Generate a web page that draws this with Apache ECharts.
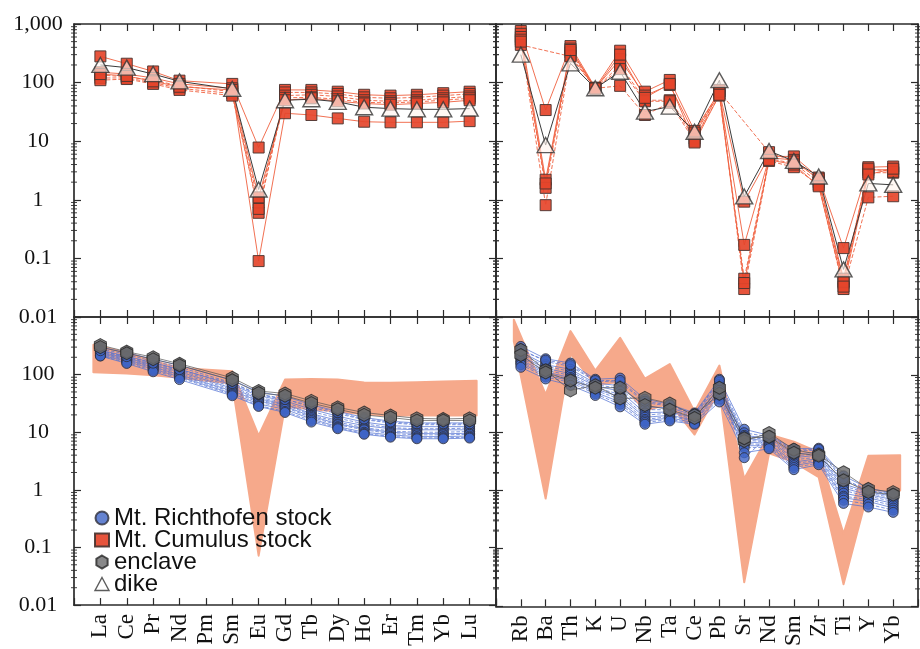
<!DOCTYPE html>
<html>
<head>
<meta charset="utf-8">
<script src="https://cdn.jsdelivr.net/npm/echarts@6/dist/echarts.min.js"></script>
<style>
  html, body { margin: 0; padding: 0; background: #ffffff; }
  #chart { width: 920px; height: 649px; }
</style>
</head>
<body>
<div id="chart"></div>
<script>
// Element orders for the two diagrams
const reeElements = ['La', 'Ce', 'Pr', 'Nd', 'Pm', 'Sm', 'Eu', 'Gd', 'Tb', 'Dy', 'Ho', 'Er', 'Tm', 'Yb', 'Lu'];
const traceElements = ['Rb', 'Ba', 'Th', 'K', 'U', 'Nb', 'Ta', 'Ce', 'Pb', 'Sr', 'Nd', 'Sm', 'Zr', 'Ti', 'Y', 'Yb'];
const yTickLabels = ['0.01', '0.1', '1', '10', '100', '1,000'];

// Mt. Cumulus stock, chondrite-normalised REE (Pm not analysed)
const cumulusREE = [
  [280, 210, 155, 108, null, 95, 7.8, 75, 75, 70, 62, 60, 62, 66, 70],
  [150, 140, 120, 95, null, 80, 0.09, 30, 28, 24.5, 21.5, 21, 21, 21, 22],
  [135, 125, 110, 88, null, 70, 0.6, 68, 68, 64, 56, 54, 56, 60, 64],
  [120, 120, 100, 80, null, 65, 0.9, 60, 62, 58, 50, 48, 50, 54, 58],
  [110, 115, 95, 75, null, 60, 0.7, 55, 56, 52, 46, 45, 47, 50, 54],
  [140, 130, 105, 85, null, 75, 1.1, 50, 54, 48, 44, 42, 44, 46, 50]
];
// Mt. Cumulus stock, primitive-mantle-normalised trace elements
const cumulusTrace = [
  [760, 34, 420, 82, 350, 70, 111, 15, 70, 0.93, 5.5, 5.5, 2.4, 0.15, 3.6, 3.7],
  [680, 2.2, 380, 80, 250, 60, 91, 13, 65, 0.17, 5.2, 4.8, 2.2, 0.045, 3.2, 3.3],
  [600, 1.6, 330, 78, 200, 50, 50, 11, 60, 0.045, 5.0, 4.2, 2.0, 0.038, 2.9, 2.9],
  [540, 0.81, 290, 80, 88, 28, 45, 10, 75, 0.03, 4.6, 3.6, 1.8, 0.03, 1.1, 1.15],
  [440, null, 280, 80, 170, 48, 48, 14, 70, null, 6.5, 4.5, 2.3, 0.04, 3.4, 3.0],
  [500, 1.9, 360, 79, 300, 55, 95, 9.5, 62, 0.038, 4.8, 4.0, 1.7, 0.033, 2.7, 3.4]
];
const cumulusDash = ['solid', 'solid', 'dashed', 'dashed', 'dashed', 'solid'];

// Dike
const dikeREE = [200, 180, 140, 105, null, 78, 1.5, 50, 52, 47, 38, 36, 35, 35, 36];
const dikeTrace = [300, 8.6, 213, 80, 153, 32, 39, 14.5, 110, 1.14, 6.8, 4.6, 2.5, 0.065, 1.9, 1.8];

// Mt. Richthofen stock
const richthofenREE = [
  [300, 240, 185, 145, null, 80, 50, 42, 30, 23, 18, 15.5, 14.5, 14.5, 14.5],
  [280, 225, 170, 135, null, 72, 46, 38, 27, 21, 16.5, 14.5, 13.5, 13.5, 13.5],
  [265, 210, 160, 125, null, 66, 43, 35, 25, 19, 15, 13, 12.5, 12.5, 12.5],
  [255, 200, 150, 118, null, 62, 40, 33, 23, 17.5, 14, 12, 11.5, 11.5, 11.8],
  [245, 195, 145, 112, null, 58, 38, 31, 21, 16, 13, 11.5, 11, 11, 11],
  [240, 188, 140, 106, null, 55, 36, 30, 20, 15, 12, 10.5, 10, 10, 10.3],
  [232, 182, 135, 100, null, 52, 35, 28, 19, 14, 11.5, 10, 9.5, 9.4, 9.6],
  [225, 176, 130, 96, null, 50, 33, 27, 18, 13.5, 11, 9.5, 9, 9, 9.2],
  [218, 170, 124, 92, null, 47, 31, 25, 17, 12.5, 10, 9, 8.4, 8.4, 8.6],
  [212, 162, 118, 88, null, 45, 29, 23, 16, 12, 9.5, 8.5, 8, 8, 8.2],
  [210, 156, 112, 82, null, 43, 28, 22, 15, 11.5, 9.2, 8.2, 7.7, 7.7, 7.9],
  [260, 205, 158, 122, null, 70, 45, 37, 29, 22, 17, 15, 14, 14, 14]
];
const richthofenTrace = [
  [310, 190, 160, 84, 88, 38, 31, 22, 84, 11.5, 9.0, 5.3, 5.4, 1.8, 1.1, 0.9],
  [280, 170, 140, 78, 75, 33, 29, 21, 75, 10, 8.5, 4.8, 5.0, 1.5, 1.0, 0.85],
  [250, 150, 125, 72, 65, 28, 27, 20, 68, 9, 8.0, 4.3, 4.6, 1.3, 0.95, 0.8],
  [230, 140, 115, 68, 58, 25, 25, 19, 62, 8.5, 7.6, 4.0, 4.3, 1.2, 0.9, 0.75],
  [210, 130, 105, 65, 52, 22, 23, 18, 58, 8, 7.2, 3.7, 4.1, 1.1, 0.85, 0.7],
  [195, 120, 98, 60, 46, 20, 22, 17, 54, 7.5, 6.9, 3.4, 3.8, 1.0, 0.8, 0.65],
  [180, 112, 90, 57, 42, 18.5, 20, 16.5, 50, 7, 6.5, 3.1, 3.6, 0.9, 0.75, 0.6],
  [170, 105, 85, 54, 38, 17, 19, 16, 46, 6.5, 6.2, 2.9, 3.4, 0.8, 0.7, 0.55],
  [160, 98, 80, 50, 34, 16, 18, 15, 42, 6, 5.9, 2.7, 3.2, 0.75, 0.65, 0.5],
  [150, 92, 74, 47, 31, 15, 17, 14.5, 38, 5.5, 5.6, 2.5, 3.0, 0.68, 0.58, 0.46],
  [135, 85, 66, 44, 28, 14, 16, 14, 34, 4.5, 5.3, 2.3, 2.8, 0.6, 0.52, 0.42],
  [260, 180, 150, 80, 80, 35, 30, 21, 80, 3.7, 8.8, 5.0, 5.2, 1.6, 1.0, 0.88]
];

// Enclaves
const enclaveREE = [
  [325, 250, 200, 154, null, 88, 52, 47, 35, 27, 22, 19.5, 17.4, 17, 17.4],
  [300, 235, 185, 145, null, 80, 48, 43, 32, 25, 20, 18, 16, 16, 16]
];
const enclaveTrace = [
  [270, 120, 54, 66, 39, 40, 32, 20, 47, 7.2, 9.9, 5.1, 4.2, 2.07, 1.07, 0.94],
  [220, 110, 80, 60, 60, 30, 25, 18, 60, 8, 8.5, 4.5, 4.0, 1.5, 0.95, 0.85]
];

// Field of the Mt. Cumulus stock shown behind the Richthofen data
const cumulusFieldREEHigh = [330, 240, 175, 130, null, 114, 8.7, 82, 84, 82, 73, 72, 74, 76, 78];
const cumulusFieldREELow = [110, 105, 97, 88, null, 70, 0.072, 28, 25, 23, 20.5, 19.5, 19.5, 19.5, 19.5];
const cumulusFieldTraceHigh = [900, 46, 570, 119, 438, 86, 154, 23, 145, 1.6, 9.3, 7, 4.6, 0.18, 4.0, 4.1];
const cumulusFieldTraceLow = [380, 0.73, 230, 68, 75, 24, 32, 9.3, 55, 0.026, 4.4, 3.1, 1.7, 0.024, 1.0, 1.0];

// ---------- styling ----------
const INK = '#2b2b2b';
const SERIF = 'Liberation Serif';
const SANS = 'Liberation Sans';
const CUMULUS_FILL = '#e5452b';
const CUMULUS_LINE = '#f0603f';
const BLUE_FILL = '#3f64c6';
const BLUE_LINE = '#4f6fd2';
const ENCLAVE_FILL = '#6a6a6c';
const FIELD_COLOR = '#f6a98b';
const HEX = 'path://M0,-10L8.66,-5L8.66,5L0,10L-8.66,5L-8.66,-5Z';

const grids = [
  { left: 74, top: 24, width: 422, height: 293 },   // REE, Cumulus + dike
  { left: 496, top: 24, width: 422, height: 293 },  // trace, Cumulus + dike
  { left: 74, top: 317, width: 422, height: 294 },  // REE, Richthofen + enclave
  { left: 496, top: 317, width: 422, height: 294 }  // trace, Richthofen + enclave
];
const gridElements = [reeElements, traceElements, reeElements, traceElements];

// log-scale minor tick values (2..9 within each decade)
const minorTickValues = [];
for (let e = -2; e <= 2; e++) {
  for (let d = 2; d <= 9; d++) minorTickValues.push(+(d * Math.pow(10, e)).toPrecision(3));
}

const xAxes = [];
const yAxes = [];
grids.forEach((g, gi) => {
  const cats = gridElements[gi];
  const isBottomRow = gi >= 2;
  ['bottom', 'top'].forEach(pos => {
    xAxes.push({
      type: 'value', gridIndex: gi, position: pos,
      min: -1, max: cats.length, interval: 1,
      axisLine: { show: true, onZero: false, lineStyle: { color: INK, width: 1.7 } },
      axisTick: { show: true, inside: true, length: 7, lineStyle: { color: INK, width: 1.2 } },
      splitLine: { show: false },
      axisLabel: {
        show: pos === 'bottom' && isBottomRow,
        rotate: 90, margin: 9, fontFamily: SERIF, fontSize: 23, color: '#111',
        formatter: v => (cats[v] !== undefined ? cats[v] : '')
      }
    });
  });
  ['left', 'right'].forEach(pos => {
    yAxes.push({
      type: 'log', logBase: 10, gridIndex: gi, position: pos,
      min: 0.01, max: 1000,
      axisLine: { show: true, onZero: false, lineStyle: { color: INK, width: 1.7 } },
      axisTick: { show: true, inside: true, length: 7, lineStyle: { color: INK, width: 1.2 } },
      splitLine: { show: false },
      axisLabel: {
        show: pos === 'left' && (gi === 0 || gi === 2),
        align: 'center', margin: 36, fontFamily: SERIF, fontSize: 22, color: '#111',
        formatter: v => {
          const k = Math.round(Math.log10(v)) + 2;
          if (isBottomRow && k === 5) return '';
          return yTickLabels[k] || '';
        }
      }
    });
  });
});

function points(values) {
  const out = [];
  values.forEach((v, i) => { if (v != null) out.push([i, v]); });
  return out;
}

const series = [];

// Minor ticks on both vertical edges of every panel, placed by the log axis
grids.forEach((g, gi) => {
  const last = gridElements[gi].length;
  series.push({
    type: 'custom', xAxisIndex: gi * 2, yAxisIndex: gi * 2,
    data: minorTickValues.map(v => [-1, v]), z: 5, silent: true, clip: false,
    renderItem: (params, api) => {
      const v = api.value(1);
      const pl = api.coord([-1, v]);
      const pr = api.coord([last, v]);
      const st = { stroke: INK, lineWidth: 0.9 };
      return {
        type: 'group',
        children: [
          { type: 'line', shape: { x1: pl[0] - 3, y1: pl[1], x2: pl[0] + 3, y2: pl[1] }, style: st },
          { type: 'line', shape: { x1: pr[0] - 3, y1: pr[1], x2: pr[0] + 3, y2: pr[1] }, style: st }
        ]
      };
    }
  });
});

function addLine(gi, values, color, width, type, opacity) {
  series.push({
    type: 'line', xAxisIndex: gi * 2, yAxisIndex: gi * 2,
    data: points(values), symbol: 'none', silent: true, z: 2,
    lineStyle: { color: color, width: width, type: type, opacity: opacity }
  });
}
function addMarks(gi, name, values, symbol, size, itemStyle, z) {
  series.push({
    type: 'scatter', name: name, xAxisIndex: gi * 2, yAxisIndex: gi * 2,
    data: points(values), symbol: symbol, symbolSize: size, z: z,
    itemStyle: itemStyle, silent: true
  });
}
function addField(gi, high, low) {
  series.push({
    type: 'custom', xAxisIndex: gi * 2, yAxisIndex: gi * 2,
    data: [[0, 1]], z: 1, silent: true, clip: true,
    renderItem: (params, api) => {
      const top = [], bottom = [];
      high.forEach((v, i) => { if (v != null) top.push(api.coord([i, v])); });
      low.forEach((v, i) => { if (v != null) bottom.push(api.coord([i, v])); });
      const ext = 7;
      top[0] = [top[0][0] - ext, top[0][1]];
      bottom[0] = [bottom[0][0] - ext, bottom[0][1]];
      top[top.length - 1] = [top[top.length - 1][0] + ext, top[top.length - 1][1]];
      bottom[bottom.length - 1] = [bottom[bottom.length - 1][0] + ext, bottom[bottom.length - 1][1]];
      return {
        type: 'polygon',
        shape: { points: top.concat(bottom.reverse()) },
        style: { fill: FIELD_COLOR, stroke: FIELD_COLOR, lineWidth: 2, lineJoin: 'round' }
      };
    }
  });
}

const cumulusStyle = { color: CUMULUS_FILL, borderColor: '#4a3430', borderWidth: 1, opacity: 0.92 };
const dikeStyle = { color: 'rgba(255,244,238,0.8)', borderColor: '#333', borderWidth: 1.4 };
const blueStyle = { color: BLUE_FILL, borderColor: '#2e2e38', borderWidth: 1 };
const enclaveStyle = { color: ENCLAVE_FILL, borderColor: '#262626', borderWidth: 1 };

// Top row: Mt. Cumulus stock and dike
[[0, cumulusREE, dikeREE], [1, cumulusTrace, dikeTrace]].forEach(([gi, samples, dike]) => {
  samples.forEach((s, k) => addLine(gi, s, CUMULUS_LINE, 1, cumulusDash[k], 0.9));
  addLine(gi, dike, '#3a3a3a', 1, 'solid', 1);
  samples.forEach(s => addMarks(gi, 'Mt. Cumulus stock', s, 'rect', 11, cumulusStyle, 3));
  addMarks(gi, 'dike', dike, 'triangle', [17, 15], dikeStyle, 4);
});

// Bottom row: Cumulus field, Mt. Richthofen stock and enclaves
[[2, richthofenREE, enclaveREE, cumulusFieldREEHigh, cumulusFieldREELow],
 [3, richthofenTrace, enclaveTrace, cumulusFieldTraceHigh, cumulusFieldTraceLow]]
  .forEach(([gi, samples, enclaves, high, low]) => {
    addField(gi, high, low);
    samples.forEach((s, k) => addLine(gi, s, BLUE_LINE, 0.9, k % 2 ? 'dashed' : 'solid', 0.8));
    enclaves.forEach(s => addLine(gi, s, '#555', 0.9, 'solid', 0.8));
    samples.forEach(s => addMarks(gi, 'Mt. Richthofen stock', s, 'circle', 10, blueStyle, 3));
    enclaves.forEach(s => addMarks(gi, 'enclave', s, HEX, [12, 13], enclaveStyle, 4));
  });

const chart = echarts.init(document.getElementById('chart'), null, { renderer: 'canvas' });
chart.setOption({
  animation: false,
  backgroundColor: '#ffffff',
  grid: grids,
  xAxis: xAxes,
  yAxis: yAxes,
  legend: {
    orient: 'vertical', left: 94, top: 506, padding: 0,
    itemWidth: 14, itemHeight: 13, itemGap: -2, selectedMode: false,
    textStyle: { fontFamily: SANS, fontSize: 24, lineHeight: 21, color: '#111' },
    data: [
      { name: 'Mt. Richthofen stock', icon: 'circle' },
      { name: 'Mt. Cumulus stock', icon: 'rect' },
      { name: 'enclave', icon: HEX },
      { name: 'dike', icon: 'triangle', itemStyle: { color: '#ffffff', borderColor: '#333', borderWidth: 1.4 } }
    ]
  },
  series: series
});
</script>
</body>
</html>
